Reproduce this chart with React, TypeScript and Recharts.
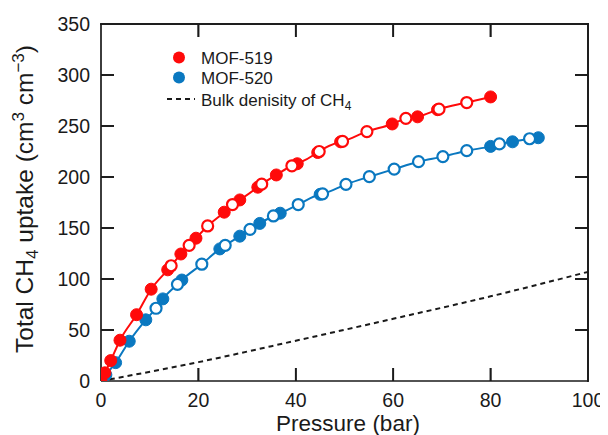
import React from "react";
import { ComposedChart, Line, Scatter, XAxis, YAxis, Customized } from "recharts";

// MOF-519 (red): filled = adsorption, open = desorption
const mof519FilledP = [0, 0.8, 2, 3.9, 7.3, 10.3, 13.7, 16.4, 19.5, 25.3, 28.5, 32.2, 36, 40.3, 44.5, 49.2, 59.8, 65, 69.1, 80];
const mof519FilledU = [0, 8, 20, 40, 65, 90, 109, 124.5, 140, 165.5, 177.5, 190, 202, 213, 224, 234.5, 252, 259, 266, 278.5];
const mof519OpenP = [14.4, 18.1, 21.9, 27, 33, 39.2, 44.8, 49.6, 54.6, 62.6, 69.4, 75.1];
const mof519OpenU = [113, 133, 152, 173, 193, 211, 225, 235, 244.5, 257.5, 266.5, 273];

// MOF-520 (blue)
const mof520FilledP = [0, 1, 3, 5.8, 9.2, 12.7, 16.6, 24.4, 28.5, 32.6, 36.8, 45, 80, 84.5, 89.8];
const mof520FilledU = [0, 6, 18, 39, 60, 80.5, 99, 129.5, 142, 154.5, 164.5, 183, 230, 234.5, 238.5];
const mof520OpenP = [11.3, 15.7, 20.7, 25.5, 30.6, 35.4, 40.5, 45.5, 50.3, 55.1, 60.2, 65.2, 70.2, 75.1, 81.8, 88];
const mof520OpenU = [71.3, 94.8, 114.5, 133, 148.7, 161.8, 173, 183.5, 192.8, 200.3, 207.8, 215, 220, 225.8, 232.4, 237.5];

// Bulk density of CH4
const bulkP = [0, 20, 40, 60, 80, 100];
const bulkU = [0, 18.5, 39.5, 61, 83, 107];

const xTicks = [0, 20, 40, 60, 80, 100];
const yTicks = [0, 50, 100, 150, 200, 250, 300, 350];
const X_MIN = 0;
const X_MAX = 100;
const Y_MIN = 0;
const Y_MAX = 350;

const RED = "#ff0a0a";
const BLUE = "#0a78c0";
const AXIS = "#1a1a1a";
const FONT = "'Liberation Sans', Arial, sans-serif";

// layout
const W = 600;
const H = 427;
const M = { top: 16, right: 20, bottom: 0, left: 0 };
const Y_AXIS_W = 93;
const X_AXIS_H = 54;
const PLOT_L = M.left + Y_AXIS_W;
const PLOT_T = M.top;
const PLOT_W = W - M.right - PLOT_L;
const PLOT_H = H - M.bottom - X_AXIS_H - PLOT_T;
const TL = 13;
const LW = 1.7;

const toPts = (p: number[], u: number[]) => p.map((v, i) => ({ p: v, u: u[i] }));
const sorted = (a: { p: number; u: number }[]) => [...a].sort((m, n) => m.p - n.p);

const r519F = toPts(mof519FilledP, mof519FilledU);
const r519O = toPts(mof519OpenP, mof519OpenU);
const b520F = toPts(mof520FilledP, mof520FilledU);
const b520O = toPts(mof520OpenP, mof520OpenU);
const r519All = sorted([...r519F, ...r519O]);
const b520All = sorted([...b520F, ...b520O]);
const bulk = toPts(bulkP, bulkU);

const BottomTick = (props: any) => {
  const { x, y, payload } = props;
  return (
    <text x={x} y={y + 25.5} textAnchor="middle" fontSize={19.5} fill={AXIS} fontFamily={FONT}>
      {payload.value}
    </text>
  );
};
const LeftTick = (props: any) => {
  const { x, y, payload } = props;
  return (
    <text x={x - 11} y={y + 7} textAnchor="end" fontSize={19.5} fill={AXIS} fontFamily={FONT}>
      {payload.value}
    </text>
  );
};

const filledDot = (color: string) => (props: any) => (
  <circle cx={props.cx} cy={props.cy} r={6} fill={color} stroke={color} strokeWidth={1} />
);
const openDot = (color: string) => (props: any) => (
  <circle cx={props.cx} cy={props.cy} r={5.5} fill="#ffffff" stroke={color} strokeWidth={2.2} />
);

const XTitle = () => (
  <text x={340} y={423} textAnchor="middle" fontSize={22.5} fill={AXIS} fontFamily={FONT}>
    Pressure (bar)
  </text>
);

// frame edges (top, right) and inward ticks, drawn as thin filled rects
const frameRects = () => {
  const px = (t: number) => PLOT_L + ((t - X_MIN) / (X_MAX - X_MIN)) * PLOT_W;
  const py = (t: number) => PLOT_T + PLOT_H - ((t - Y_MIN) / (Y_MAX - Y_MIN)) * PLOT_H;
  const top = PLOT_T;
  const bottom = PLOT_T + PLOT_H;
  const left = PLOT_L;
  const right = PLOT_L + PLOT_W;
  const h = LW / 2;
  const r: { x: number; y: number; w: number; h: number }[] = [
    { x: left - h, y: top - h, w: right - left + LW, h: LW },
    { x: right - h, y: top - h, w: LW, h: bottom - top + LW },
  ];
  xTicks.slice(1, -1).forEach((t) => {
    const x = px(t);
    r.push({ x: x - h, y: bottom - TL, w: LW, h: TL });
    r.push({ x: x - h, y: top, w: LW, h: TL });
  });
  yTicks.slice(1, -1).forEach((t) => {
    const y = py(t);
    r.push({ x: left, y: y - h, w: TL, h: LW });
    r.push({ x: right - TL, y: y - h, w: TL, h: LW });
  });
  return r;
};

const FrameLayer = () => (
  <g className="plot-frame">
    {frameRects().map((s, i) => (
      <rect key={i} x={s.x} y={s.y} width={s.w} height={s.h} fill={AXIS} />
    ))}
  </g>
);

const YTitleAndLegend = () => (
  <g>
    <text
      x={25}
      y={191}
      transform="rotate(-90 25 191)"
      textAnchor="middle"
      fontSize={24.5}
      fill={AXIS}
      fontFamily={FONT}
    >
      Total CH
      <tspan fontSize={17} dy={5}>4</tspan>
      <tspan dy={-5}> uptake (cm</tspan>
      <tspan fontSize={17} dy={-9}>3</tspan>
      <tspan dy={9}> cm</tspan>
      <tspan fontSize={17} dy={-9}>−3</tspan>
      <tspan dy={9}>)</tspan>
    </text>
    <g fontFamily={FONT} fontSize={17} fill={AXIS}>
      <circle cx={171} cy={49.5} r={6} fill={RED} />
      <text x={193} y={55.5}>MOF-519</text>
      <circle cx={171} cy={69.5} r={6} fill={BLUE} />
      <text x={193} y={76}>MOF-520</text>
      <line x1={159} y1={91} x2={187} y2={91} stroke={AXIS} strokeWidth={2} strokeDasharray="5 4" />
      <text x={193} y={97.5}>
        Bulk denisity of CH
        <tspan fontSize={12} dy={4}>4</tspan>
      </text>
    </g>
    <FrameLayer />
  </g>
);

export default function App() {
  return (
    <div style={{ width: W, height: H }}>
      <ComposedChart width={W} height={H} margin={M}>
        <XAxis
          xAxisId="b"
          dataKey="p"
          type="number"
          domain={[X_MIN, X_MAX]}
          ticks={xTicks}
          interval={0}
          height={X_AXIS_H}
          tickSize={0}
          tickMargin={0}
          tick={<BottomTick />}
          axisLine={{ stroke: AXIS, strokeWidth: LW }}
          tickLine={false}
          allowDataOverflow
          label={<XTitle />}
        />
        <YAxis
          yAxisId="l"
          type="number"
          domain={[Y_MIN, Y_MAX]}
          ticks={yTicks}
          interval={0}
          width={Y_AXIS_W}
          tickSize={0}
          tickMargin={0}
          tick={<LeftTick />}
          axisLine={{ stroke: AXIS, strokeWidth: LW }}
          tickLine={false}
          allowDataOverflow
          label={<YTitleAndLegend />}
        />
        <Customized component={<FrameLayer />} />
        <Line
          xAxisId="b"
          yAxisId="l"
          data={bulk}
          dataKey="u"
          type="monotone"
          stroke={AXIS}
          strokeWidth={2}
          strokeDasharray="5 4"
          dot={false}
          isAnimationActive={false}
        />
        <Line
          xAxisId="b"
          yAxisId="l"
          data={b520All}
          dataKey="u"
          type="monotone"
          stroke={BLUE}
          strokeWidth={2}
          dot={false}
          isAnimationActive={false}
        />
        <Line
          xAxisId="b"
          yAxisId="l"
          data={r519All}
          dataKey="u"
          type="monotone"
          stroke={RED}
          strokeWidth={2}
          dot={false}
          isAnimationActive={false}
        />
        <Scatter xAxisId="b" yAxisId="l" data={b520F} dataKey="u" shape={filledDot(BLUE)} isAnimationActive={false} />
        <Scatter xAxisId="b" yAxisId="l" data={b520O} dataKey="u" shape={openDot(BLUE)} isAnimationActive={false} />
        <Scatter xAxisId="b" yAxisId="l" data={r519F} dataKey="u" shape={filledDot(RED)} isAnimationActive={false} />
        <Scatter xAxisId="b" yAxisId="l" data={r519O} dataKey="u" shape={openDot(RED)} isAnimationActive={false} />
      </ComposedChart>
    </div>
  );
}
